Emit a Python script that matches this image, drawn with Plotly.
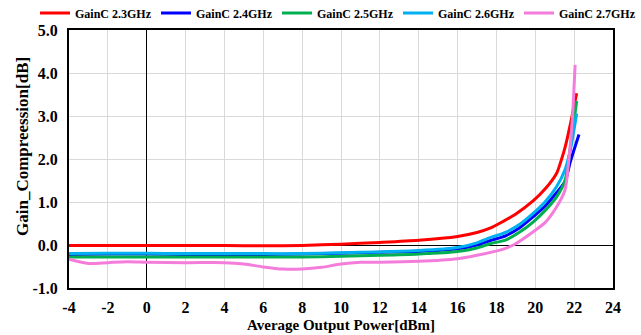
import plotly.graph_objects as go

# ---- data ----
red_x = [-4, -2, 0, 2, 4, 6, 8, 10, 12, 14, 16, 17, 17.67, 18.35, 19, 19.9, 20.5, 21.1, 21.3, 21.55, 21.8, 22.13]
red_y = [-0.01, -0.01, -0.01, -0.01, -0.01, -0.02, -0.01, 0.02, 0.06, 0.11, 0.2, 0.29, 0.39, 0.55, 0.72, 1.03, 1.3, 1.67, 1.92, 2.3, 2.8, 3.53]

blue_x = [-4, -2, 0, 2, 4, 6, 8, 10, 12, 14, 16, 17, 17.67, 18.5, 19.2, 19.9, 20.5, 21.1, 21.53, 21.8, 22.25]
blue_y = [-0.22, -0.21, -0.21, -0.22, -0.22, -0.22, -0.21, -0.19, -0.17, -0.15, -0.09, 0.0, 0.1, 0.22, 0.4, 0.66, 0.9, 1.22, 1.47, 1.93, 2.57]

green_x = [-4, -2, 0, 2, 4, 6, 8, 10, 12, 14, 16, 17, 17.67, 18.5, 19.2, 19.9, 20.5, 21.1, 21.53, 21.8, 22.13]
green_y = [-0.28, -0.28, -0.28, -0.28, -0.28, -0.28, -0.28, -0.26, -0.24, -0.21, -0.15, -0.07, 0.03, 0.12, 0.3, 0.54, 0.8, 1.12, 1.5, 2.25, 3.35]

cyan_x = [-4, -2, 0, 2, 4, 6, 8, 10, 12, 14, 16, 17, 17.67, 18.5, 19.2, 19.9, 20.5, 21.1, 21.53, 21.8, 22.13]
cyan_y = [-0.2, -0.19, -0.19, -0.2, -0.2, -0.2, -0.2, -0.18, -0.16, -0.13, -0.06, 0.05, 0.17, 0.3, 0.48, 0.74, 1.0, 1.36, 1.75, 2.2, 3.06]

pink_x = [-4, -3, -2, -1, 0, 2, 4, 5, 6, 7, 8, 9, 10, 11, 12, 14, 16, 17, 18.18, 18.87, 19.9, 20.5, 21.1, 21.53, 21.7, 21.9, 22.05]
pink_y = [-0.33, -0.43, -0.41, -0.39, -0.4, -0.41, -0.41, -0.44, -0.51, -0.56, -0.56, -0.52, -0.44, -0.4, -0.4, -0.38, -0.32, -0.24, -0.12, 0.0, 0.31, 0.52, 0.89, 1.28, 1.86, 2.87, 4.19]

series_names = ["GainC 2.3GHz", "GainC 2.4GHz", "GainC 2.5GHz", "GainC 2.6GHz", "GainC 2.7GHz"]
series_colors = ["#ff0000", "#0000ff", "#00b050", "#00b0f0", "#f47ddc"]
series_x = [red_x, blue_x, green_x, cyan_x, pink_x]
series_y = [red_y, blue_y, green_y, cyan_y, pink_y]

x_ticks = list(range(-4, 25, 2))
y_ticks = [-1, 0, 1, 2, 3, 4, 5]

FONT = "Liberation Serif"

fig = go.Figure()
for name, col, xs, ys in zip(series_names, series_colors, series_x, series_y):
    fig.add_trace(go.Scatter(x=xs, y=ys, name=name, mode="lines",
                             line=dict(color=col, width=3, shape="spline", smoothing=0.7)))

axis_common = dict(showgrid=True, gridcolor="#d9d9d9", gridwidth=1,
                   zeroline=True, zerolinecolor="#000000", zerolinewidth=1,
                   showline=True, linecolor="#000000", linewidth=2, mirror=True,
                   ticks="", tickfont=dict(family=FONT, size=16, color="#000", weight="bold"))

fig.update_xaxes(range=[-4, 24], tickvals=x_ticks, ticktext=[str(v) for v in x_ticks],
                 ticklabelstandoff=4, **axis_common)
fig.update_yaxes(range=[-1, 5], tickvals=y_ticks, ticktext=[f"{v:.1f}" for v in y_ticks],
                 ticklabelstandoff=6, **axis_common)

fig.add_annotation(text="Average Output Power[dBm]", xref="paper", yref="paper",
                   x=0.5, y=-0.143, yanchor="middle", showarrow=False,
                   font=dict(family=FONT, size=15, color="#000", weight="bold"))
fig.add_annotation(text="Gain_Compreession[dB]", xref="paper", yref="paper",
                   x=(22 - 69) / 544, y=(288 - 147) / 258, textangle=-90,
                   xanchor="center", yanchor="middle", showarrow=False,
                   font=dict(family=FONT, size=17, color="#000", weight="bold"))

fig.update_layout(
    width=641, height=335,
    margin=dict(l=69, r=28, t=30, b=47, autoexpand=False),
    paper_bgcolor="white", plot_bgcolor="white",
    showlegend=True,
    legend=dict(orientation="h", x=(35 - 69) / 544, y=1 + (30 - 13) / 258,
                xanchor="left", yanchor="middle", itemwidth=30,
                entrywidth=76, entrywidthmode="pixels",
                font=dict(family=FONT, size=12, color="#000", weight="bold"),
                bgcolor="rgba(0,0,0,0)", tracegroupgap=0),
)

fig.write_html("out.html", config={"displayModeBar": False},
               post_script="document.body.style.margin='0';document.body.style.overflow='hidden';")
